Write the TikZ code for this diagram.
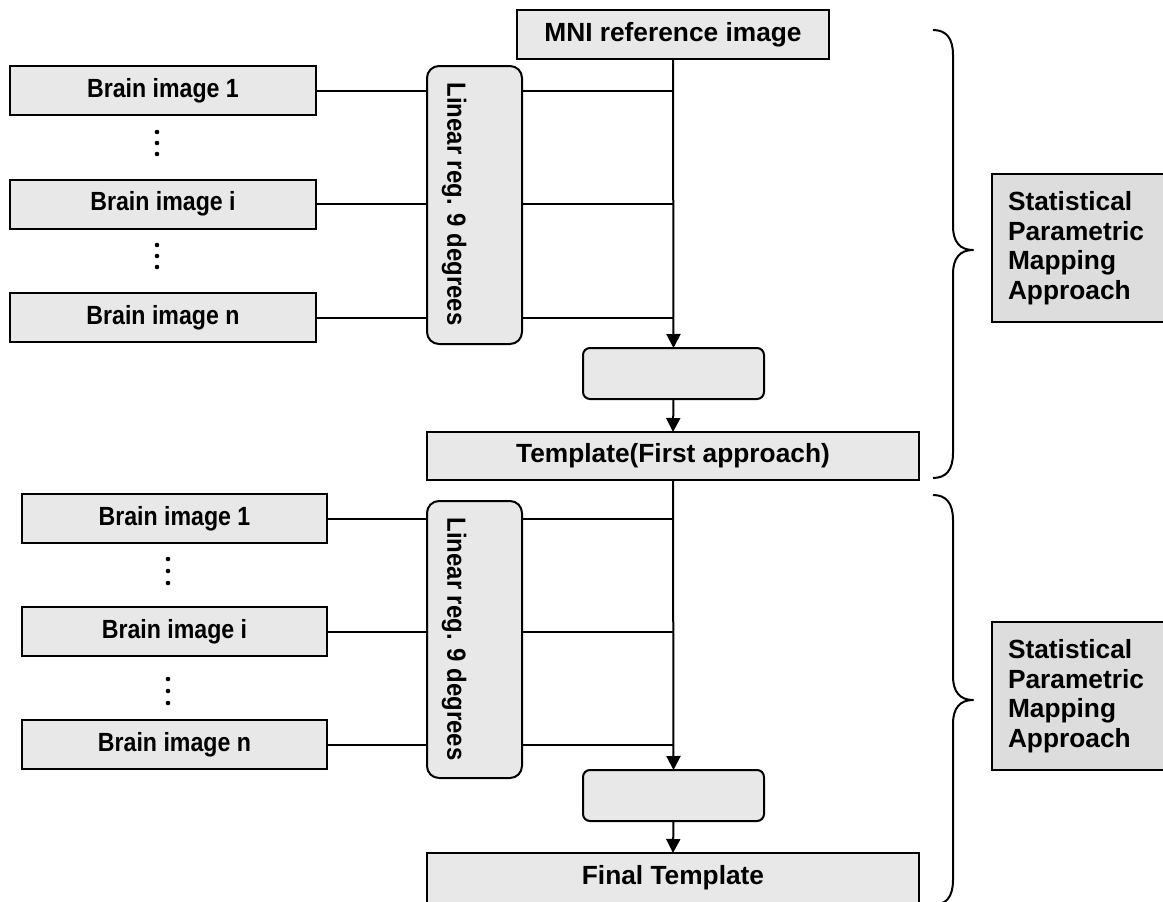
\documentclass[tikz,border=0pt]{standalone}
\usepackage{fontspec}
\setmainfont{Liberation Sans}
\usepackage{graphicx}
\usetikzlibrary{arrows.meta}

\definecolor{boxfill}{RGB}{232,232,232}
\definecolor{spmfill}{RGB}{221,221,221}

\begin{document}
\begin{tikzpicture}[x=1pt,y=-1pt,
  every node/.style={inner sep=0pt, outer sep=0pt},
  lbl/.style={font=\bfseries\fontsize{26.3}{29.5}\selectfont},
  plainbox/.style={draw, line width=2pt, fill=boxfill, minimum height=49pt, lbl},
  brainbox/.style={plainbox, minimum width=306pt},
  linbox/.style={draw, line width=2pt, fill=boxfill, rounded corners=12pt, minimum width=95pt},
  stepbox/.style={draw, line width=2pt, fill=boxfill, rounded corners=7pt, minimum width=181pt, minimum height=51pt},
  widebox/.style={plainbox, minimum width=492pt},
  spmbox/.style={draw, line width=2pt, fill=spmfill, minimum width=174pt, minimum height=148pt,
                 lbl, align=left, text width=142pt, inner xsep=16pt},
  conn/.style={line width=2pt},
  flow/.style={line width=2pt, -{Triangle[length=14pt,width=14pt]}},
  brace/.style={line width=2pt, line join=round},
  dotmark/.style={fill=black}
]
\useasboundingbox (0,0) rectangle (1163,902);

% ---------- first stage ----------
\node[plainbox, minimum width=312pt] (mni) at (673,34.5) {MNI reference image};

\node[brainbox] (a1) at (163,90.5) {\scalebox{0.88}[1]{Brain image 1}};
\node[brainbox] (ai) at (163,204)  {\scalebox{0.88}[1]{Brain image i}};
\node[brainbox] (an) at (163,317.5){\scalebox{0.88}[1]{Brain image n}};

\foreach \y in {132,143,154,245,256,267}
  \fill[dotmark] (157,\y) circle (2.3pt);

\node[linbox, minimum height=278pt] (lin1) at (474.5,205) {};
\node[lbl, rotate=-90] (lin1txt) at (454,204) {\scalebox{0.91}[1]{Linear reg. 9 degrees}};

\node[stepbox] (s1) at (673.5,373.5) {};
\node[widebox, minimum height=48pt] (tmpl) at (673,456) {Template(First approach)};

\foreach \b in {a1,ai,an} {
  \draw[conn] (\b.east) -- (\b.east -| lin1.west);
  \draw[conn] (\b.east -| lin1.east) -- (\b.east -| mni.south);
}
\draw[flow] (mni.south) -- (s1.north);
\draw[flow] (s1.south) -- (tmpl.north);

% brace and label of the first stage
\draw[brace] (933,30) .. controls (946,30) and (953,38) .. (953,55) -- (953,226)
  .. controls (953,242) and (960,250) .. (973,250)
  .. controls (960,250) and (953,258) .. (953,274) -- (953,453)
  .. controls (953,470) and (946,478) .. (933,478);
\node[spmbox] (spm1) at (1079,248) {Statistical\\Parametric\\Mapping\\Approach};

% ---------- second stage ----------
\node[brainbox, minimum width=305pt] (b1) at (174.5,518.5) {\scalebox{0.88}[1]{Brain image 1}};
\node[brainbox, minimum width=305pt] (bi) at (174.5,631.5) {\scalebox{0.88}[1]{Brain image i}};
\node[brainbox, minimum width=305pt] (bn) at (174.5,744.5) {\scalebox{0.88}[1]{Brain image n}};

\foreach \y in {559,571,583,679,691,703}
  \fill[dotmark] (168,\y) circle (2.3pt);

\node[linbox, minimum height=277pt] (lin2) at (474.5,639.5) {};
\node[lbl, rotate=-90] (lin2txt) at (454,639) {\scalebox{0.91}[1]{Linear reg. 9 degrees}};

\node[stepbox] (s2) at (673.5,795.5) {};
\node[widebox, minimum height=50pt] (final) at (673,878) {Final Template};

\foreach \b in {b1,bi,bn} {
  \draw[conn] (\b.east) -- (\b.east -| lin2.west);
  \draw[conn] (\b.east -| lin2.east) -- (\b.east -| tmpl.south);
}
\draw[flow] (tmpl.south) -- (s2.north);
\draw[flow] (s2.south) -- (final.north);

% brace and label of the second stage
\draw[brace] (933,495) .. controls (946,495) and (953,503) .. (953,520) -- (953,676)
  .. controls (953,692) and (960,700) .. (973,700)
  .. controls (960,700) and (953,708) .. (953,724) -- (953,880)
  .. controls (953,897) and (946,905) .. (933,905);
\node[spmbox] (spm2) at (1079,696) {Statistical\\Parametric\\Mapping\\Approach};
\end{tikzpicture}
\end{document}
